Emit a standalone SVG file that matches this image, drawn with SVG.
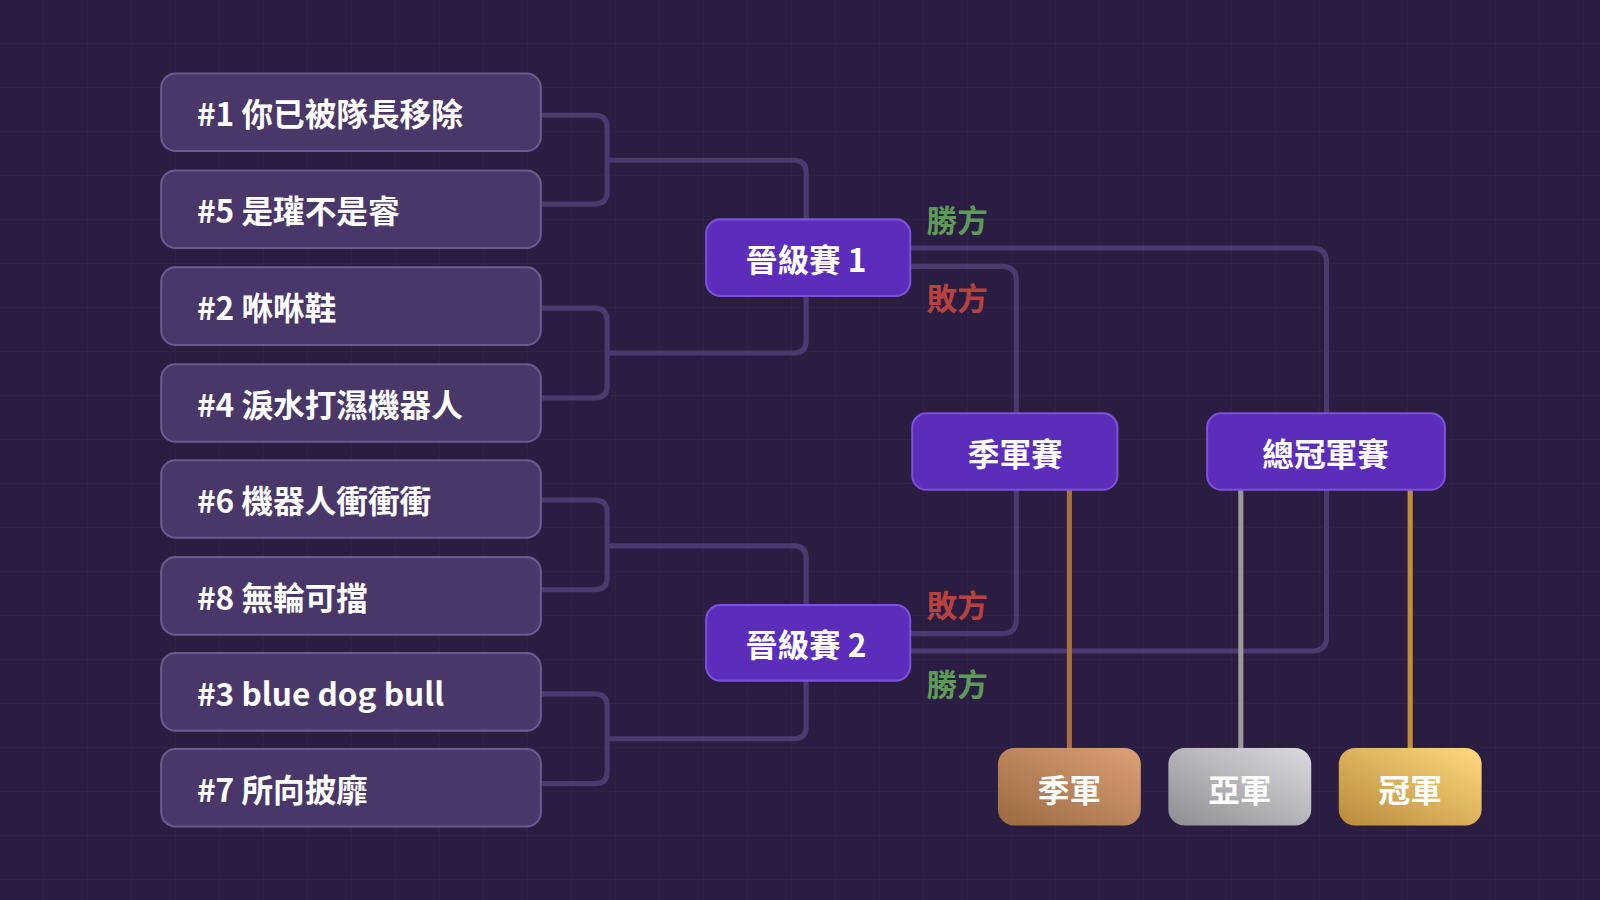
<svg xmlns="http://www.w3.org/2000/svg" width="1600" height="900" viewBox="0 0 1600 900">
<defs>
<style>
.team rect{fill:#49376a;stroke:#6b5a92;stroke-width:2}
.team text{fill:#fff;font:bold 31px "Noto Sans CJK TC","Noto Sans",sans-serif;dominant-baseline:central}
.match rect{fill:#5c2dbb;stroke:#7b52dc;stroke-width:2}
.match text,.medal text{fill:#fff;font:bold 31px "Noto Sans CJK TC","Noto Sans",sans-serif;text-anchor:middle;dominant-baseline:central}
.conn path{fill:none;stroke:#4b3a70;stroke-width:5}
.lbl{font:bold 30px "Noto Sans CJK TC","Noto Sans",sans-serif}
</style>
<pattern id="grid" width="44" height="44" patternUnits="userSpaceOnUse"><path d="M44 0V44H0" fill="none" stroke="#33264a" stroke-width="1"/></pattern>
<linearGradient id="bz" x1="0" y1="1" x2="1" y2="0"><stop offset="0" stop-color="#9a6a40"/><stop offset="1" stop-color="#dca078"/></linearGradient>
<linearGradient id="sv" x1="0" y1="1" x2="1" y2="0"><stop offset="0" stop-color="#8e8e92"/><stop offset="1" stop-color="#dcdae0"/></linearGradient>
<linearGradient id="gd" x1="0" y1="1" x2="1" y2="0"><stop offset="0" stop-color="#b88a3a"/><stop offset="1" stop-color="#ffd980"/></linearGradient>
</defs>
<rect width="1600" height="900" fill="#2b1d41"/>
<rect width="1600" height="900" fill="url(#grid)"/>
<g transform="scale(1.020408)">
<g class="conn">
<path d="M530 113H583Q595 113 595 125V188Q595 200 583 200H530"/>
<path d="M595 157H778Q790 157 790 169V215"/>
<path d="M530 302H583Q595 302 595 314V378Q595 390 583 390H530"/>
<path d="M595 346H778Q790 346 790 334V290"/>
<path d="M530 490H583Q595 490 595 502V566Q595 578 583 578H530"/>
<path d="M595 535H778Q790 535 790 547V593"/>
<path d="M530 680H583Q595 680 595 692V756Q595 768 583 768H530"/>
<path d="M595 724H778Q790 724 790 712V667"/>
<path d="M892 243H1286Q1300 243 1300 257V405"/>
<path d="M892 261H982Q996 261 996 275V405"/>
<path d="M892 621H982Q996 621 996 607V480"/>
<path d="M892 638H1286Q1300 638 1300 624V480"/>
<path d="M1048 480V733" style="stroke:#a8703f"/>
<path d="M1216 480V733" style="stroke:#9a9a9c"/>
<path d="M1382 480V733" style="stroke:#c0903c"/>
</g>
<g id="t1" class="team"><rect x="158" y="72" width="372" height="76" rx="14"/><text x="193" y="110">#1 你已被隊長移除</text></g>
<g id="t5" class="team"><rect x="158" y="167" width="372" height="76" rx="14"/><text x="193" y="205">#5 是瓘不是睿</text></g>
<g id="t2" class="team"><rect x="158" y="262" width="372" height="76" rx="14"/><text x="193" y="300">#2 咻咻鞋</text></g>
<g id="t4" class="team"><rect x="158" y="357" width="372" height="76" rx="14"/><text x="193" y="395">#4 淚水打濕機器人</text></g>
<g id="t6" class="team"><rect x="158" y="451" width="372" height="76" rx="14"/><text x="193" y="489">#6 機器人衝衝衝</text></g>
<g id="t8" class="team"><rect x="158" y="546" width="372" height="76" rx="14"/><text x="193" y="584">#8 無輪可擋</text></g>
<g id="t3" class="team"><rect x="158" y="640" width="372" height="76" rx="14"/><text x="193" y="678">#3 blue dog bull</text></g>
<g id="t7" class="team"><rect x="158" y="734" width="372" height="76" rx="14"/><text x="193" y="772">#7 所向披靡</text></g>
<g id="m1" class="match"><rect x="692" y="215" width="200" height="75" rx="14"/><text x="790" y="253">晉級賽 1</text></g>
<g id="m2" class="match"><rect x="692" y="593" width="200" height="74" rx="14"/><text x="790" y="630">晉級賽 2</text></g>
<g id="third" class="match"><rect x="894" y="405" width="201" height="75" rx="14"/><text x="995" y="443">季軍賽</text></g>
<g id="final" class="match"><rect x="1183" y="405" width="233" height="75" rx="14"/><text x="1299" y="443">總冠軍賽</text></g>
<g id="lbls" class="lbl">
<text x="908" y="227" fill="#5e9a5a">勝方</text>
<text x="908" y="304" fill="#b8433e">敗方</text>
<text x="908" y="605" fill="#b8433e">敗方</text>
<text x="908" y="682" fill="#5e9a5a">勝方</text>
</g>
<g id="bronze" class="medal"><rect x="978" y="733" width="140" height="76" rx="16" fill="url(#bz)"/><text x="1048" y="772">季軍</text></g>
<g id="silver" class="medal"><rect x="1145" y="733" width="140" height="76" rx="16" fill="url(#sv)"/><text x="1215" y="772">亞軍</text></g>
<g id="gold" class="medal"><rect x="1312" y="733" width="140" height="76" rx="16" fill="url(#gd)"/><text x="1382" y="772">冠軍</text></g>
</g>
</svg>
